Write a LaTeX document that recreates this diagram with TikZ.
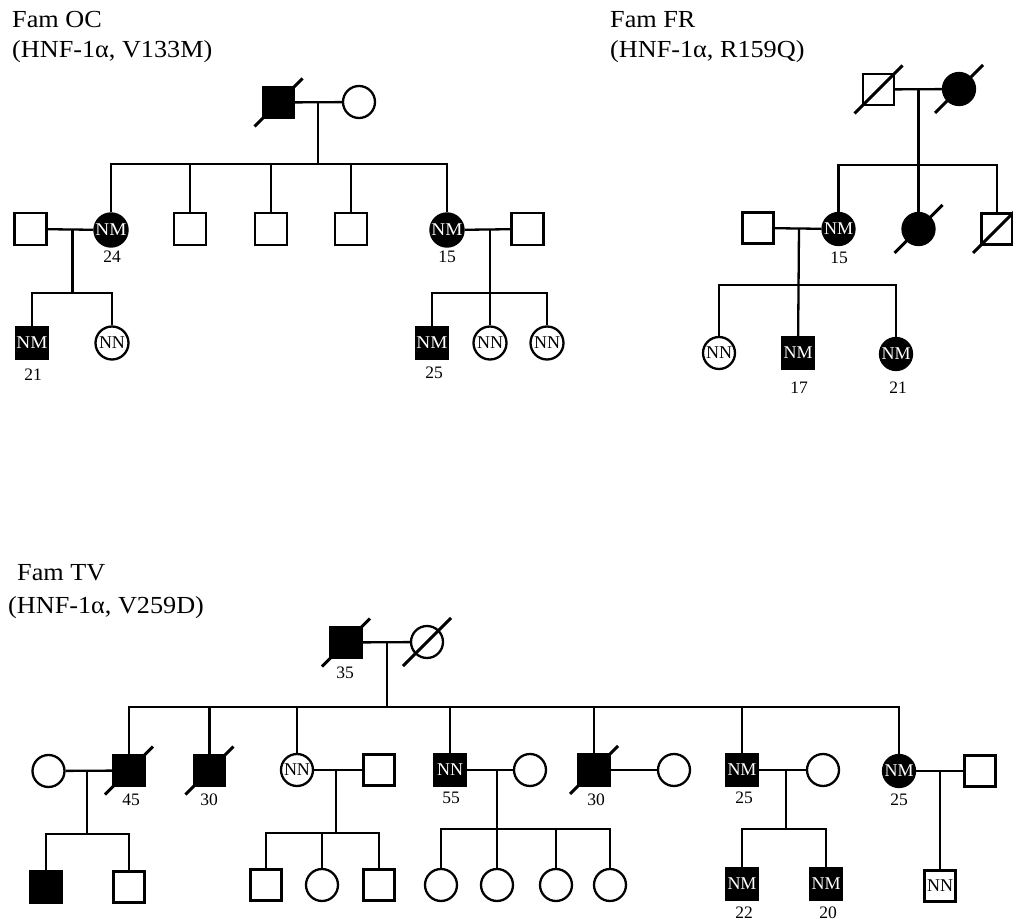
\documentclass[tikz,border=0pt]{standalone}
\usepackage{fontspec}
\setmainfont{Liberation Serif}
\usetikzlibrary{calc}
\newcommand{\hs}[1]{\scalebox{1.07}[1]{#1}}
\newcommand{\deadmark}[1]{\draw[slashline] ($(#1.center)+(-24,24)$) -- ($(#1.center)+(24,-24)$);}
\begin{document}
\begin{tikzpicture}[x=1pt,y=-1pt,
  male/.style={draw, rectangle, minimum size=31pt, inner sep=0pt, line width=2.3pt, fill=white},
  female/.style={draw, circle, minimum size=32pt, inner sep=0pt, line width=2.3pt, fill=white},
  aff/.style={fill=black, text=white},
  geno/.style={font=\fontsize{18}{18}\selectfont},
  age/.style={font=\fontsize{17.5}{17.5}\selectfont, inner sep=0pt},
  title/.style={font=\fontsize{24.5}{24.5}\selectfont, anchor=base west, inner sep=0pt},
  conn/.style={line width=2.3pt},
  slashline/.style={line width=2.9pt},
]
\useasboundingbox (0,0) rectangle (1013,923);

% ---------------- Fam OC ----------------
\node[title] (oct1) at (12,28) {\hs{Fam OC}};
\node[title] (oct2) at (12,58) {\hs{(HNF-1α, V133M)}};

\node[male,aff] (oc1) at (278.5,102.5) {};
\node[female] (oc2) at (359,102) {};
\deadmark{oc1}
\draw[conn] (oc1) -- (oc2);
\coordinate (ocm) at (318,102);
\coordinate (ocs) at (318,164);
\draw[conn] (ocm) -- (ocs);

\node[female,aff,geno,minimum size=33pt] (oc3) at (111,230) {\hs{NM}};
\node[male,minimum size=32pt] (oc4) at (190,229) {};
\node[male,minimum size=32pt] (oc5) at (271,229) {};
\node[male,minimum size=32pt] (oc6) at (351,229) {};
\node[female,aff,geno,minimum size=33pt] (oc7) at (447,230) {\hs{NM}};
\draw[conn] (oc3) -- (oc3 |- ocs) -- (oc7 |- ocs) -- (oc7);
\foreach \n in {oc4,oc5,oc6} \draw[conn] (\n) -- (\n |- ocs);
\node[age] (oc3a) at (112,257) {24};
\node[age] (oc7a) at (447,257) {15};

\node[male,minimum size=32pt] (oc8) at (30.5,229) {};
\draw[conn] (oc8) -- (oc3);
\coordinate (oc38) at (72.5,229);
\coordinate (oc38s) at (72.5,293);
\draw[conn] (oc38) -- (oc38s);
\node[male,aff,geno] (oc9) at (32,343) {\hs{NM}};
\node[female,geno,minimum size=33pt] (oc10) at (112,343) {NN};
\draw[conn] (oc9) -- (oc9 |- oc38s) -- (oc10 |- oc38s) -- (oc10);
\node[age] (oc9a) at (33,375) {21};

\node[male,minimum size=32pt] (oc11) at (527.5,229) {};
\draw[conn] (oc7) -- (oc11);
\coordinate (oc711) at (490,229);
\coordinate (oc711s) at (490,293);
\node[male,aff,geno] (oc12) at (432,343) {\hs{NM}};
\node[female,geno,minimum size=33pt] (oc13) at (490,343) {NN};
\node[female,geno,minimum size=33pt] (oc14) at (547,343) {NN};
\draw[conn] (oc711) -- (oc13);
\draw[conn] (oc12) -- (oc12 |- oc711s) -- (oc14 |- oc711s) -- (oc14);
\node[age] (oc12a) at (434,373) {25};

% ---------------- Fam FR ----------------
\node[title] (frt1) at (610,28) {\hs{Fam FR}};
\node[title] (frt2) at (610,58) {\hs{(HNF-1α, R159Q)}};

\node[male] (fr1) at (878.5,89.5) {};
\node[female,aff] (fr2) at (959,89) {};
\draw[conn] (fr1) -- (fr2);
\deadmark{fr1}
\deadmark{fr2}
\coordinate (frm) at (918.5,89);
\coordinate (frs) at (918.5,165);

\node[female,aff,geno] (fr3) at (838.5,229) {NM};
\node[female,aff] (fr4) at (918.5,229) {};
\node[male] (fr5) at (997,229) {};
\deadmark{fr4}
\deadmark{fr5}
\draw[conn] (frm) -- (fr4);
\draw[conn] (fr3) -- (fr3 |- frs) -- (fr5 |- frs) -- (fr5);
\node[age] (fr3a) at (839,258) {15};

\node[male] (fr6) at (758,228) {};
\draw[conn] (fr6) -- (fr3);
\coordinate (fr63) at (799,228);
\coordinate (fr63s) at (799,285);
\node[female,geno] (fr7) at (719,353) {NN};
\node[male,aff,geno] (fr8) at (798,353) {NM};
\node[female,aff,geno] (fr9) at (896,354) {NM};
\draw[conn] (fr63) -- (fr8);
\draw[conn] (fr7) -- (fr7 |- fr63s) -- (fr9 |- fr63s) -- (fr9);
\node[age] (fr8a) at (799,388) {17};
\node[age] (fr9a) at (898,388) {21};

% ---------------- Fam TV ----------------
\node[title] (tvt1) at (17,580) {\hs{Fam TV}};
\node[title] (tvt2) at (8,613) {\hs{(HNF-1α, V259D)}};

\node[male,aff] (tv1) at (346,642.5) {};
\node[female] (tv2) at (427,642) {};
\draw[conn] (tv1) -- (tv2);
\deadmark{tv1}
\deadmark{tv2}
\node[age] (tv1a) at (345,673) {35};
\coordinate (tvm) at (387,642);
\coordinate (tvs) at (387,707);
\draw[conn] (tvm) -- (tvs);

\node[female] (tv3) at (48.5,771) {};
\node[male,aff] (tv4) at (129,770.5) {};
\node[male,aff] (tv5) at (209.5,770.5) {};
\node[female,geno] (tv6) at (297,770) {NN};
\node[male] (tv7) at (379,770) {};
\node[male,aff,geno] (tv8) at (450,770) {NN};
\node[female] (tv9) at (530,770) {};
\node[male,aff] (tv10) at (594,770) {};
\node[female] (tv11) at (674,770) {};
\node[male,aff,geno] (tv12) at (742,770) {NM};
\node[female] (tv13) at (823,770) {};
\node[female,aff,geno] (tv14) at (899,771) {NM};
\node[male] (tv15) at (980,771) {};
\deadmark{tv4}
\deadmark{tv5}
\deadmark{tv10}
\node[age] (tv4a) at (131,800) {45};
\node[age] (tv5a) at (209,800) {30};
\node[age] (tv8a) at (451,798) {55};
\node[age] (tv10a) at (596,800) {30};
\node[age] (tv12a) at (744,798) {25};
\node[age] (tv14a) at (899,800) {25};

\draw[conn] (tv4) -- (tv4 |- tvs) -- (tv14 |- tvs) -- (tv14);
\foreach \n in {tv5,tv6,tv8,tv10,tv12} \draw[conn] (\n) -- (\n |- tvs);

% marriages
\draw[conn] (tv3) -- (tv4);
\draw[conn] (tv6) -- (tv7);
\draw[conn] (tv8) -- (tv9);
\draw[conn] (tv10) -- (tv11);
\draw[conn] (tv12) -- (tv13);
\draw[conn] (tv14) -- (tv15);

% children of tv3 x tv4
\coordinate (tv34) at (87,771);
\coordinate (tv34s) at (87,834);
\draw[conn] (tv34) -- (tv34s);
\node[male,aff] (tv16) at (46,887) {};
\node[male] (tv17) at (129,887) {};
\draw[conn] (tv16) -- (tv16 |- tv34s) -- (tv17 |- tv34s) -- (tv17);

% children of tv6 x tv7
\coordinate (tv67) at (336,770);
\coordinate (tv67s) at (336,833);
\draw[conn] (tv67) -- (tv67s);
\node[male] (tv18) at (266,885) {};
\node[female] (tv19) at (322,885) {};
\node[male] (tv20) at (379,885) {};
\draw[conn] (tv18) -- (tv18 |- tv67s) -- (tv20 |- tv67s) -- (tv20);
\draw[conn] (tv19) -- (tv19 |- tv67s);

% children of tv8 x tv9
\coordinate (tv89) at (497,770);
\coordinate (tv89s) at (497,829);
\node[female] (tv21) at (441,885) {};
\node[female] (tv22) at (497,885) {};
\node[female] (tv23) at (556,885) {};
\node[female] (tv24) at (610,885) {};
\draw[conn] (tv89) -- (tv22);
\draw[conn] (tv21) -- (tv21 |- tv89s) -- (tv24 |- tv89s) -- (tv24);
\draw[conn] (tv23) -- (tv23 |- tv89s);

% children of tv12 x tv13
\coordinate (tv1213) at (786,770);
\coordinate (tv1213s) at (786,829);
\draw[conn] (tv1213) -- (tv1213s);
\node[male,aff,geno] (tv25) at (742,884) {NM};
\node[male,aff,geno] (tv26) at (826,884) {NM};
\draw[conn] (tv25) -- (tv25 |- tv1213s) -- (tv26 |- tv1213s) -- (tv26);
\node[age] (tv25a) at (744,913) {22};
\node[age] (tv26a) at (828,913) {20};

% child of tv14 x tv15
\coordinate (tv1415) at (940,771);
\node[male,geno] (tv27) at (940,886) {NN};
\draw[conn] (tv1415) -- (tv27);
\end{tikzpicture}
\end{document}
